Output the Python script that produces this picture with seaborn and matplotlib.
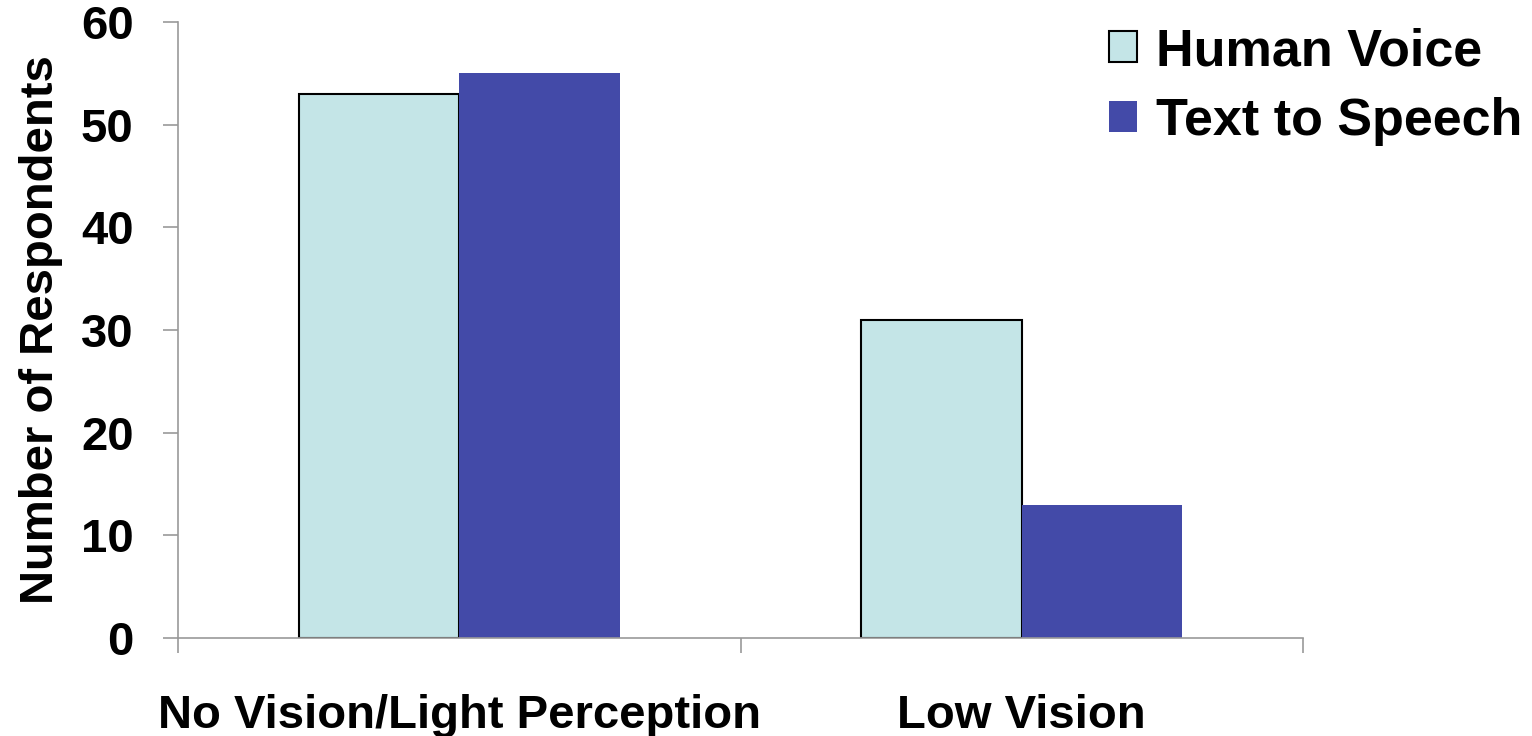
import matplotlib
matplotlib.use("Agg")
import matplotlib.pyplot as plt
from matplotlib.patches import Patch
import seaborn as sns
import pandas as pd

categories = ["No Vision/Light Perception", "Low Vision"]
series_names = ["Human Voice", "Text to Speech"]
human_voice = [53, 31]
text_to_speech = [55, 13]
y_ticks = [0, 10, 20, 30, 40, 50, 60]

colors = {"Human Voice": "#C4E5E7", "Text to Speech": "#434AA8"}

df = pd.DataFrame({
    "category": categories * 2,
    "series": [series_names[0]] * 2 + [series_names[1]] * 2,
    "count": human_voice + text_to_speech,
})

sns.set_theme(style="white")
plt.rcParams["font.family"] = ["Liberation Sans", "DejaVu Sans"]
plt.rcParams["font.weight"] = "bold"
plt.rcParams["text.color"] = "black"
plt.rcParams["axes.labelcolor"] = "black"
plt.rcParams["xtick.labelcolor"] = "black"
plt.rcParams["ytick.labelcolor"] = "black"

fig = plt.figure(figsize=(15.32, 7.36), dpi=100)
ax = fig.add_axes([178 / 1532, 1 - 638 / 736, 1125 / 1532, 616 / 736])

sns.barplot(data=df, x="category", y="count", hue="series", order=categories,
            hue_order=series_names, palette=colors, width=0.57, saturation=1,
            legend=False, ax=ax, linewidth=0)

# Outline only the Human Voice bars
for bar in ax.containers[0]:
    bar.set_edgecolor("black")
    bar.set_linewidth(1.5)

ax.set_xlim(-0.5, 1.5)
ax.set_ylim(0, 60)
ax.set_yticks(y_ticks)
ax.set_yticklabels([str(t) for t in y_ticks], fontsize=34, fontweight="bold",
                   color="black")

# Category labels centred, separator ticks at category boundaries
ax.set_xticks([0, 1])
ax.set_xticklabels(categories, fontsize=34, fontweight="bold", color="black")
ax.set_xticks([-0.5, 0.5, 1.5], minor=True)
ax.tick_params(axis="x", which="major", length=0, pad=40)
ax.tick_params(axis="x", which="minor", length=11, width=1.2, color="#999999",
               direction="out", bottom=True)
ax.tick_params(axis="y", which="major", length=11, width=1.2, color="#999999",
               direction="out", left=True, pad=21)

ax.set_xlabel("")
ax.set_ylabel("Number of Respondents", fontsize=34, fontweight="bold",
              color="black")
ax.yaxis.set_label_coords(-0.1025, 0.5)

for side in ["top", "right"]:
    ax.spines[side].set_visible(False)
for side in ["left", "bottom"]:
    ax.spines[side].set_color("#999999")
    ax.spines[side].set_linewidth(1.2)

handles = [
    Patch(facecolor=colors["Human Voice"], edgecolor="black", linewidth=1.5),
    Patch(facecolor=colors["Text to Speech"], edgecolor="none"),
]
fig.legend(handles, series_names, loc="upper right",
           bbox_to_anchor=(1522 / 1532, 1 - 27 / 736), frameon=False,
           prop={"size": 37.5, "weight": "bold"}, handlelength=0.55,
           handleheight=0.55, handletextpad=0.35, labelspacing=0.4,
           borderpad=0, borderaxespad=0, labelcolor="black")

fig.savefig("out.png", dpi=100)
